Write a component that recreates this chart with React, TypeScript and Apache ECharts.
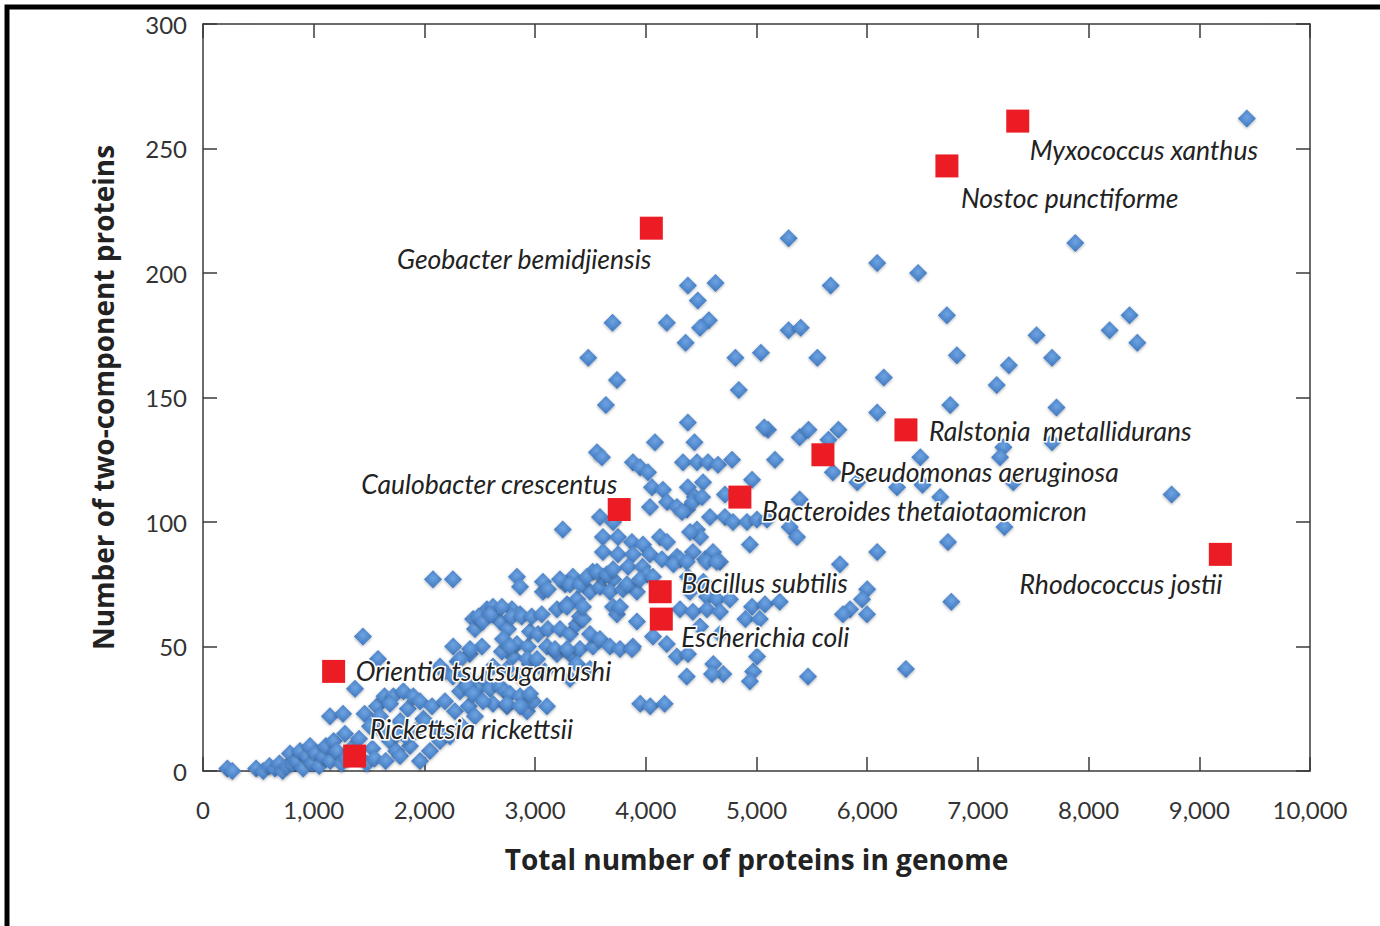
import React, { useEffect, useRef } from "react";
import * as echarts from "echarts";

// Blue diamonds: [total proteins, two-component proteins]
const smallGenomes: number[][] = [
  [220,1],[265,0],[480,1],[545,0],[600,2],[650,1],[690,3],[720,0],[760,2],[786,7],[810,3],[849,4],[876,8],[905,1],
  [940,6],[967,10],[990,3],[1020,7],[1050,2],[1085,6],[1110,10],[1150,4],[1180,12],[1210,8],[1250,3],[1147,22],
  [1265,23],[1283,15],[1373,33],[1445,54],[1581,45],[1340,9],[1410,13],[1460,23],[1509,18],[1530,9],[1572,26],
  [1599,22],[1640,30],[1689,12],[1720,30],[1745,8],[1780,6],[1780,20],[1810,32],[1850,25],[1870,10],[1900,30],
  [1915,16],[1960,4],[1960,28],[1990,21],[1480,3],[1550,5],[1650,4],[1300,5],[1690,27],[1620,16],[1830,14],[1750,15]
];

const midGenomes: number[][] = [
  [2005,20],[2050,8],[2069,26],[2078,77],[2114,17],[2141,12],[2186,28],[2231,14],[2258,77],[2276,24],[2322,32],
  [2340,18],[2350,38],[2300,44],[2400,26],[2412,36],[2410,47],[2440,61],[2457,57],[2457,22],[2502,34],[2547,37],
  [2565,65],[2593,33],[2620,66],[2620,42],[2620,27],[2683,60],[2683,34],[2728,32],[2746,41],[2746,26],[2755,57],
  [2773,31],[2791,65],[2800,46],[2836,78],[2836,51],[2864,63],[2864,30],[2927,24],[2936,50],[2954,56],[2981,28],
  [3026,55],[3071,72],[3071,76],[3107,50],[3116,57],[3198,47],[3198,65],[3225,57],[3250,97],[3288,67],[3315,55],
  [3315,47],[3378,69],[3378,59],[3405,49],[3405,62],[3496,72],[3523,50],[3586,74],[3342,78],[3270,75],[3180,49],
  [3089,40],[2954,43],[2864,38],[2954,31],[3315,37],[3378,43],[3496,41],[3433,61],[2260,50],[2180,40],[2520,50],
  [2700,48],[2710,53],[2773,50],[2927,45],[3017,45],[3288,49],[3496,55],[3586,53],[3676,50],[3767,49],[3884,50],
  [2412,49],[2322,45],[2141,42],[2258,38],[2385,34],[2439,31],[2529,28],[2746,27],[2864,26],[3107,26],[2864,74],
  [3116,73],[2490,62],[2530,60],[2600,63],[2700,66],[2790,62],[2880,62],[2970,62],[3060,63]
];

const coreGenomes: number[][] = [
  [3884,124],[3948,122],[4020,120],[4336,124],[4463,124],[4562,124],[4652,123],[4779,125],[4083,132],[4380,140],
  [4440,132],[4056,114],[4155,113],[4517,116],[4380,114],[4444,110],[4715,111],[4960,117],[4192,108],[4038,106],
  [4282,106],[4372,105],[4426,108],[4508,110],[3586,102],[3704,100],[4327,104],[4580,102],[4715,102],[4788,100],
  [4914,100],[5004,101],[5095,101],[3613,94],[3749,94],[3875,92],[3975,91],[4128,94],[4192,92],[4462,97],
  [4490,94],[4400,96],[4940,91],[3613,88],[3749,87],[3884,87],[4038,87],[4146,85],[4282,86],[4426,88],[4309,85],
  [4535,85],[4607,88],[4670,84],[3520,80],[3840,82],[3970,82],[4010,79],[4250,83],[4370,84],[4550,84],[4640,84],
  [3613,78],[3704,77],[3225,77],[3315,75],[3405,75],[4380,78],[4520,76],[3676,72],[3794,73],[3920,72],[4399,72],
  [4553,70],[4643,69],[3288,66],[3433,66],[3704,66],[4309,65],[4426,64],[4553,65],[4670,64],[3469,78],[3559,80],
  [3649,79],[3704,81],[3830,75],[3948,77],[4065,78],[3559,128],[3604,126],[3640,147],[3480,166],[3740,157],
  [3700,180],[3920,60],[3740,63],[3767,66],[3875,49],[4065,54],[4190,51],[4280,46],[4370,38],[4610,43],[4700,39],
  [4970,40],[4940,36],[3950,27],[4040,26],[4170,27],[4490,58],[4670,55],[4760,69],[4960,66],[5077,67],[4900,61],
  [5030,61],[5210,68],[5005,46],[4598,39],[4381,47],[5465,38]
];

const largeGenomes: number[][] = [
  [9430,262],[7880,212],[5290,214],[6090,204],[6460,200],[5670,195],[4380,195],[4630,196],[4470,189],[4570,181],
  [4490,178],[4190,180],[4360,172],[6720,183],[6810,167],[7170,155],[7280,163],[7530,175],[7670,166],[7710,146],
  [8190,177],[8370,183],[8440,172],[6150,158],[6750,147],[5550,166],[5040,168],[5290,177],[5400,178],[4810,166],
  [4840,153],[6090,144],[5104,137],[5070,138],[5390,134],[5470,137],[5740,137],[5650,133],[5167,125],[5690,120],
  [5300,98],[5366,94],[5754,83],[6000,73],[5953,69],[5845,65],[5781,63],[5998,63],[6480,126],[7230,130],
  [7200,126],[7670,132],[6270,114],[6500,115],[6660,110],[7320,116],[5390,109],[7240,98],[6730,92],[6760,68],
  [6350,41],[6090,88],[5910,116],[8750,111]
];

// Highlighted genomes (red squares)
const highlightNames = [
  "Myxococcus xanthus", "Nostoc punctiforme", "Geobacter bemidjiensis", "Ralstonia  metallidurans",
  "Pseudomonas aeruginosa", "Bacteroides thetaiotaomicron", "Caulobacter crescentus", "Bacillus subtilis",
  "Escherichia coli", "Orientia tsutsugamushi", "Rickettsia rickettsii", "Rhodococcus jostii"
];
const highlightX = [7360, 6720, 4050, 6350, 5600, 4850, 3760, 4130, 4140, 1180, 1370, 9190];
const highlightY = [261, 243, 218, 137, 127, 110, 105, 72, 61, 40, 6, 87];
// label placement relative to square centre: [dx, dy, align]
const labelPlacement: [number, number, string][] = [
  [12, 29, "left"], [14, 32, "left"], [0, 31, "right"], [23, 1, "left"],
  [17, 17, "left"], [22, 14, "left"], [-2, -26, "right"], [21, -9, "left"],
  [20, 18, "left"], [22, 0, "left"], [15, -27, "left"], [2, 30, "right"]
];

export default function App() {
  const ref = useRef<HTMLDivElement>(null);
  useEffect(() => {
    if (!ref.current) return;
    const chart = echarts.init(ref.current, null, { renderer: "svg" });
    const axisColor = "#3a3a3a";
    const fmt = (v: number) => v.toLocaleString("en-US");
    const axisCommon = {
      type: "value",
      axisLine: { show: true, onZero: false, lineStyle: { color: axisColor, width: 1.5 } },
      axisTick: { show: true, inside: true, length: 14, lineStyle: { color: axisColor, width: 1.5 } },
      splitLine: { show: false },
    };
    const blue = {
      type: "radial", x: 0.5, y: 0.42, r: 0.62,
      colorStops: [
        { offset: 0, color: "#6ea4e2" },
        { offset: 1, color: "#3a72bb" },
      ],
    };
    const redData = highlightNames.map((n, i) => ({
      name: n,
      value: [highlightX[i], highlightY[i]],
      label: {
        show: true,
        formatter: n,
        position: "inside",
        offset: [labelPlacement[i][0], labelPlacement[i][1]],
        align: labelPlacement[i][2],
        verticalAlign: "middle",
      },
    }));
    chart.setOption({
      animation: false,
      backgroundColor: "#ffffff",
      grid: { left: 203, right: 70, top: 24, bottom: 155 },
      graphic: [
        {
          type: "rect",
          shape: { x: 7, y: 7, width: 1600, height: 1600 },
          style: { fill: "none", stroke: "#000", lineWidth: 5 },
          silent: true,
        },
      ],
      xAxis: [
        {
          ...axisCommon,
          position: "bottom",
          min: 0, max: 10000, interval: 1000,
          axisLabel: { margin: 26, fontSize: 24, color: "#333", fontFamily: "Lato", formatter: fmt },
          name: "Total number of proteins in genome",
          nameLocation: "middle",
          nameGap: 74,
          nameTextStyle: { fontSize: 28, fontWeight: "bold", color: "#222", fontFamily: "Open Sans" },
        },
        {
          ...axisCommon,
          position: "top",
          min: 0, max: 10000, interval: 1000,
          axisLabel: { show: false },
        },
      ],
      yAxis: [
        {
          ...axisCommon,
          position: "left",
          min: 0, max: 300, interval: 50,
          axisLabel: { margin: 16, fontSize: 24, color: "#333", fontFamily: "Lato" },
          name: "Number of two-component proteins",
          nameLocation: "middle",
          nameGap: 86,
          nameTextStyle: { fontSize: 28, fontWeight: "bold", color: "#222", fontFamily: "Open Sans" },
        },
        {
          ...axisCommon,
          position: "right",
          min: 0, max: 300, interval: 50,
          axisLabel: { show: false },
        },
      ],
      series: [
        {
          type: "scatter",
          symbol: "diamond",
          symbolSize: 18,
          data: [...smallGenomes, ...midGenomes, ...coreGenomes, ...largeGenomes],
          itemStyle: {
            color: blue,
            opacity: 1,
            shadowBlur: 3,
            shadowColor: "rgba(0,0,0,0.35)",
            shadowOffsetY: 1,
          },
          z: 2,
        },
        {
          type: "scatter",
          symbol: "rect",
          symbolSize: 23,
          data: redData,
          itemStyle: { color: "#ec1c24", opacity: 1 },
          label: {
            fontSize: 26.5,
            fontStyle: "italic",
            fontFamily: "Lato",
            color: "#222",
            textBorderColor: "#ffffff",
            textBorderWidth: 3,
          },
          z: 3,
        },
      ],
    });
    return () => chart.dispose();
  }, []);
  return (
    <div
      ref={ref}
      style={{ position: "fixed", left: 0, top: 0, width: 1380, height: 926, background: "#fff" }}
    />
  );
}
